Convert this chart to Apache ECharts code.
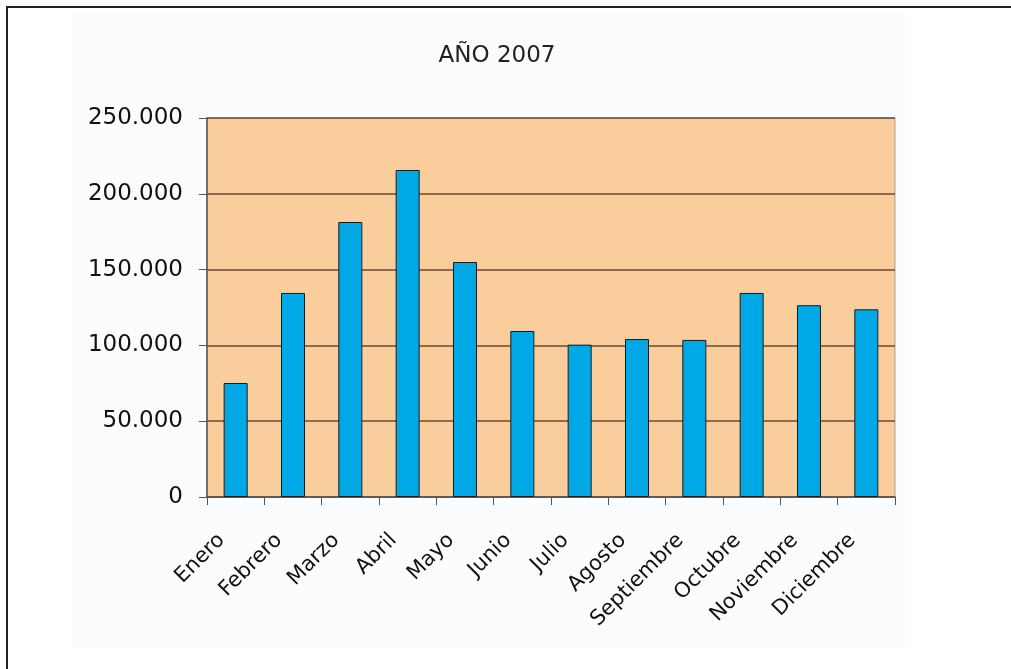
<!DOCTYPE html>
<html><head><meta charset="utf-8">
<script src="https://cdn.jsdelivr.net/npm/echarts@6/dist/echarts.min.js"></script>
<style>html,body{margin:0;padding:0;background:#fff}#c{width:1011px;height:669px}</style>
</head><body><div id="c"></div>
<script>
const titleText = 'AÑO 2007';
const categories = ['Enero','Febrero','Marzo','Abril','Mayo','Junio','Julio','Agosto','Septiembre','Octubre','Noviembre','Diciembre'];
const values = [75200, 134600, 181400, 215700, 155000, 109500, 100500, 104200, 103600, 134600, 126500, 123800];
const yTicks = [0, 50000, 100000, 150000, 200000, 250000];

const fmt = v => v === 0 ? '0' : String(v).replace(/\B(?=(\d{3})+(?!\d))/g, '.');
const font = '"DejaVu Sans", sans-serif';
const chart = echarts.init(document.getElementById('c'));
chart.setOption({
  backgroundColor: '#ffffff',
  animation: false,
  graphic: [
    { type: 'rect', shape: { x: 7, y: 7, width: 1020, height: 700 }, style: { fill: 'none', stroke: '#222', lineWidth: 2 }, z: -10 },
    { type: 'rect', shape: { x: 72, y: 12, width: 833, height: 636 }, style: { fill: '#fbfcfd' }, z: -9 }
  ],
  title: { text: titleText, left: 492, top: 40, textAlign: 'center',
    textStyle: { fontFamily: font, fontWeight: 'normal', fontSize: 23, color: '#222' } },
  grid: { left: 207, top: 118, width: 688, height: 379, show: true, backgroundColor: '#f9cd9c', borderColor: '#b0a090', borderWidth: 1 },
  xAxis: {
    type: 'category', data: categories,
    axisLine: { lineStyle: { color: '#555', width: 1.5 } },
    axisTick: { show: true, alignWithLabel: false, length: 8, lineStyle: { color: '#555' } },
    axisLabel: { rotate: 45, fontFamily: font, fontWeight: 'normal', fontSize: 21, color: '#111', margin: 26, padding: [0, 20, 0, 0], interval: 0 }
  },
  yAxis: {
    type: 'value', min: yTicks[0], max: yTicks[yTicks.length - 1], interval: 50000,
    axisLine: { show: true, lineStyle: { color: '#555', width: 1.5 } },
    axisTick: { show: true, length: 8, lineStyle: { color: '#555' } },
    axisLabel: { formatter: fmt, fontFamily: font, fontWeight: 'normal', fontSize: 23, color: '#111', margin: 24 },
    splitLine: { lineStyle: { color: '#6b4a3a', width: 1.5 } }
  },
  series: [{
    type: 'bar', data: values, barWidth: 24,
    itemStyle: { color: '#00a9e6', borderColor: '#1a1a1a', borderWidth: 1 }
  }]
});
</script></body></html>
